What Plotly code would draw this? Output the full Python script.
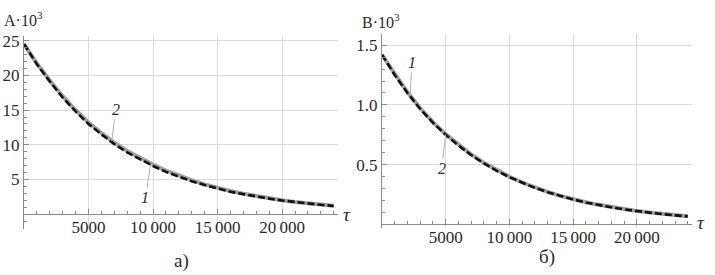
import plotly.graph_objects as go

# Data
tau = [0, 1000, 2000, 3000, 4000, 5000, 6000, 7000, 8000, 9000, 10000, 11000, 12000,
       13000, 14000, 15000, 16000, 17000, 18000, 19000, 20000, 21000, 22000, 23000, 24000]

A_curve1 = [24.5, 21.6, 19.1, 16.8, 14.8, 13.0, 11.5, 10.1, 8.9, 7.9, 6.95, 6.1, 5.4,
            4.75, 4.2, 3.7, 3.25, 2.9, 2.55, 2.25, 1.98, 1.75, 1.55, 1.36, 1.2]
A_curve2 = [24.5, 21.7, 19.25, 17.0, 15.0, 13.2, 11.7, 10.3, 9.1, 8.1, 7.15, 6.3, 5.55,
            4.9, 4.3, 3.8, 3.35, 2.95, 2.6, 2.3, 2.02, 1.78, 1.57, 1.38, 1.22]

B_curve1 = [1.42, 1.25, 1.10, 0.966, 0.85, 0.75, 0.66, 0.58, 0.51, 0.448, 0.395, 0.347,
            0.305, 0.269, 0.236, 0.208, 0.183, 0.161, 0.142, 0.125, 0.110, 0.097, 0.085,
            0.075, 0.066]
B_curve2 = [1.42, 1.255, 1.105, 0.972, 0.856, 0.755, 0.665, 0.585, 0.515, 0.452, 0.398,
            0.35, 0.308, 0.271, 0.238, 0.21, 0.185, 0.163, 0.143, 0.126, 0.111, 0.098,
            0.086, 0.076, 0.067]

x_tickvals = [5000, 10000, 15000, 20000]
x_ticktext = ["5000", "10\u2009000", "15\u2009000", "20\u2009000"]
A_tickvals = [5, 10, 15, 20, 25]
B_tickvals = [0.5, 1.0, 1.5]
B_ticktext = ["0.5", "1.0", "1.5"]

FONT = "Liberation Serif, Times New Roman, serif"
AXIS_COLOR = "#8a8a8a"
GRID_COLOR = "#dcdcdc"
TEXT_COLOR = "#2a2a2a"

fig = go.Figure()

# Left panel (A)
fig.add_trace(go.Scatter(x=tau, y=A_curve2, mode="lines", xaxis="x", yaxis="y",
                         line=dict(color="#a0a0a0", width=4), showlegend=False))
fig.add_trace(go.Scatter(x=tau, y=A_curve1, mode="lines", xaxis="x", yaxis="y",
                         line=dict(color="#111111", width=2.6, dash="7px,3px"),
                         showlegend=False))
# Right panel (B)
fig.add_trace(go.Scatter(x=tau, y=B_curve2, mode="lines", xaxis="x2", yaxis="y2",
                         line=dict(color="#a0a0a0", width=4), showlegend=False))
fig.add_trace(go.Scatter(x=tau, y=B_curve1, mode="lines", xaxis="x2", yaxis="y2",
                         line=dict(color="#111111", width=2.6, dash="7px,3px"),
                         showlegend=False))

W, H = 715, 275


def px_x(p):
    return p / W


def px_y(p):
    return 1 - p / H


common_x = dict(
    showline=True, linecolor=AXIS_COLOR, linewidth=1,
    ticks="inside", ticklen=5, tickcolor=AXIS_COLOR, tickwidth=1,
    tickvals=x_tickvals, ticktext=x_ticktext,
    minor=dict(dtick=1000, ticks="inside", ticklen=3, tickcolor=AXIS_COLOR, showgrid=False),
    showgrid=True, gridcolor=GRID_COLOR, gridwidth=1,
    zeroline=False, tickfont=dict(family=FONT, size=17, color=TEXT_COLOR),
    anchor="free", ticklabelstandoff=-3,
)
common_y = dict(
    showline=True, linecolor=AXIS_COLOR, linewidth=1,
    ticks="inside", ticklen=5, tickcolor=AXIS_COLOR, tickwidth=1,
    showgrid=True, gridcolor=GRID_COLOR, gridwidth=1,
    zeroline=False, tickfont=dict(family=FONT, size=17, color=TEXT_COLOR),
)

# Left panel geometry
yA_dom = [px_y(228), px_y(32)]
yA_range = [-2.1, 25.6]
yA_zero = yA_dom[0] + (0 - yA_range[0]) / (yA_range[1] - yA_range[0]) * (yA_dom[1] - yA_dom[0])

# Right panel geometry
yB_dom = [px_y(227), px_y(30)]
yB_range = [-0.03, 1.59]
yB_zero = yB_dom[0] + (0 - yB_range[0]) / (yB_range[1] - yB_range[0]) * (yB_dom[1] - yB_dom[0])

fig.update_layout(
    width=W, height=H,
    margin=dict(l=0, r=0, t=0, b=0),
    paper_bgcolor="white", plot_bgcolor="white",
    font=dict(family=FONT, size=15, color=TEXT_COLOR),
    xaxis=dict(domain=[px_x(24), px_x(338)], range=[0, 24330], position=yA_zero, **common_x),
    yaxis=dict(domain=yA_dom, range=yA_range, anchor="x", tickvals=A_tickvals,
               minor=dict(dtick=1, ticks="inside", ticklen=3, tickcolor=AXIS_COLOR, showgrid=False),
               **common_y),
    xaxis2=dict(domain=[px_x(382), px_x(692)], range=[0, 24330], position=yB_zero, **common_x),
    yaxis2=dict(domain=yB_dom, range=yB_range, anchor="x2", tickvals=B_tickvals,
                ticktext=B_ticktext,
                minor=dict(dtick=0.1, ticks="inside", ticklen=3, tickcolor=AXIS_COLOR, showgrid=False),
                **common_y),
)

txt_font = dict(family=FONT, size=16, color=TEXT_COLOR)
lbl_font = dict(family=FONT, size=19, color=TEXT_COLOR)
annotations = [
    dict(text="A·10<sup>3</sup>", x=px_x(2), y=px_y(14), xref="paper", yref="paper",
         xanchor="left", yanchor="middle", showarrow=False, font=txt_font),
    dict(text="B·10<sup>3</sup>", x=px_x(360), y=px_y(16), xref="paper", yref="paper",
         xanchor="left", yanchor="middle", showarrow=False, font=txt_font),
    dict(text="<i>τ</i>", x=px_x(347), y=px_y(213), xref="paper", yref="paper",
         xanchor="center", yanchor="middle", showarrow=False, font=lbl_font),
    dict(text="<i>τ</i>", x=px_x(701), y=px_y(222), xref="paper", yref="paper",
         xanchor="center", yanchor="middle", showarrow=False, font=lbl_font),
    dict(text="а)", x=px_x(181), y=px_y(261), xref="paper", yref="paper",
         xanchor="center", yanchor="middle", showarrow=False, font=lbl_font),
    dict(text="б)", x=px_x(547), y=px_y(257), xref="paper", yref="paper",
         xanchor="center", yanchor="middle", showarrow=False, font=lbl_font),
    # curve labels with leader lines
    dict(text="<i>2</i>", x=6800, y=10.5, xref="x", yref="y", ax=4, ay=-32,
         showarrow=True, arrowhead=0, arrowwidth=1, arrowcolor="#b0b0b0", standoff=0,
         font=txt_font),
    dict(text="<i>1</i>", x=9800, y=7.1, xref="x", yref="y", ax=-5, ay=33,
         showarrow=True, arrowhead=0, arrowwidth=1, arrowcolor="#b0b0b0", standoff=0,
         font=txt_font),
    dict(text="<i>1</i>", x=2200, y=1.07, xref="x2", yref="y2", ax=2, ay=-34,
         showarrow=True, arrowhead=0, arrowwidth=1, arrowcolor="#b0b0b0", standoff=0,
         font=txt_font),
    dict(text="<i>2</i>", x=5000, y=0.752, xref="x2", yref="y2", ax=-4, ay=34,
         showarrow=True, arrowhead=0, arrowwidth=1, arrowcolor="#b0b0b0", standoff=0,
         font=txt_font),
]
fig.update_layout(annotations=annotations)

fig.write_html("out.html", config={"displayModeBar": False},
               post_script="document.body.style.margin='0';document.body.style.padding='0';")
